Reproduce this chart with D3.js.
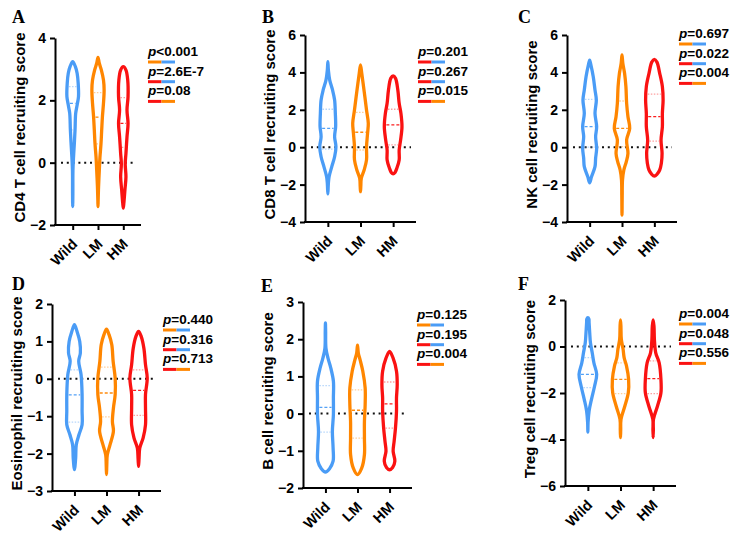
<!DOCTYPE html>
<html>
<head>
<meta charset="utf-8">
<script src="https://cdn.jsdelivr.net/npm/d3@7"></script>
<style>
  body { margin: 0; background: #fff; }
  svg text { font-family: "Liberation Sans", Arial, sans-serif; font-weight: bold; }
</style>
</head>
<body>
<svg id="chart" width="744" height="542"></svg>
<script>
// groups
const groups = ["Wild", "LM", "HM"];

// violin profiles: [score, relative density], from top to bottom
const cd4Wild = [[3.24,0],[3.08,3.3],[2.87,5.5],[2.55,6.8],[2.12,7.2],[1.85,5.5],[1.58,3.7],[1.05,2.9],[0.60,2.0],[0.17,1.0],[-0.26,0.3],[-1.0,0.2],[-1.41,0]];
const cd4LM = [[3.38,0],[3.19,1.6],[2.97,4.2],[2.65,6.8],[2.33,7.6],[1.90,6.8],[1.48,5.5],[1.05,4.6],[0.60,3.7],[0.17,2.4],[-0.26,1.6],[-0.77,0.7],[-1.2,0.2],[-1.41,0]];
const cd4HM = [[3.08,0],[2.97,3.3],[2.65,5.5],[2.12,5.9],[1.69,4.6],[1.26,5.9],[0.83,4.6],[0.30,3.3],[-0.04,2.4],[-0.45,3.3],[-0.88,2.0],[-1.30,0.7],[-1.46,0]];

const cd8Wild = [[4.57,0],[4.13,0.5],[3.59,1.8],[3.06,4.5],[2.52,6.5],[1.81,7.2],[1.10,7.5],[0.56,6.5],[0.03,7.8],[-0.51,6.5],[-1.04,3.8],[-1.58,1.2],[-1.94,0.5],[-2.50,0]];
const cd8LM = [[4.40,0],[3.95,1.2],[3.42,2.5],[2.70,4.2],[1.99,5.8],[1.28,7.5],[0.74,6.8],[0.03,5.8],[-0.68,5.8],[-1.22,3.5],[-1.66,0.8],[-2.1,0.3],[-2.38,0]];
const cd8HM = [[3.81,0],[3.68,2.3],[3.06,4.5],[2.35,5.8],[1.81,7.5],[1.10,8.5],[0.39,7.2],[-0.15,5.8],[-0.68,5.8],[-1.13,3.5],[-1.35,1.8],[-1.43,0]];

const nkWild = [[4.66,0],[4.40,1.2],[3.77,3.5],[3.06,5.2],[2.52,6.5],[1.81,5.2],[1.10,6.8],[0.56,5.8],[-0.06,6.8],[-0.59,5.8],[-1.04,5.2],[-1.58,1.8],[-1.90,0]];
const nkLM = [[4.93,0],[4.49,0.8],[3.95,2.5],[3.24,3.8],[2.35,4.5],[1.63,5.8],[1.01,7.5],[0.39,4.5],[-0.33,5.8],[-0.77,4.2],[-1.22,1.8],[-1.75,0.5],[-2.6,0.2],[-3.63,0]];
const nkHM = [[4.70,0],[4.55,2.5],[3.95,5.2],[3.24,7.8],[2.52,8.5],[1.81,7.8],[1.10,7.8],[0.39,6.5],[-0.33,7.5],[-0.86,6.8],[-1.22,5.2],[-1.45,2.5],[-1.54,0]];

const eosWild = [[1.45,0],[1.27,2.5],[1.00,5.2],[0.69,5.8],[0.47,4.2],[0.11,6.5],[-0.42,7.5],[-0.87,7.5],[-1.23,7.5],[-1.49,4.5],[-1.76,1.8],[-2.12,1.2],[-2.43,0]];
const eosLM = [[1.33,0],[1.18,2.5],[0.91,5.2],[0.47,6.5],[0.02,8.5],[-0.42,8.5],[-0.78,6.8],[-1.14,5.8],[-1.40,6.8],[-1.76,3.5],[-2.03,0.8],[-2.3,0.3],[-2.56,0]];
const eosHM = [[1.27,0],[1.14,2.5],[0.82,5.2],[0.38,6.8],[0.02,8.5],[-0.42,6.8],[-0.78,6.8],[-1.23,6.8],[-1.58,4.5],[-1.85,1.2],[-2.12,0.5],[-2.34,0]];

const bWild = [[2.44,0],[2.21,0.2],[1.76,0.5],[1.49,2.5],[1.23,5.2],[0.87,7.8],[0.42,7.8],[-0.03,7.8],[-0.48,6.8],[-0.92,7.5],[-1.28,7.5],[-1.48,4.0],[-1.57,0]];
const bLM = [[1.84,0],[1.63,0.8],[1.45,2.5],[1.14,5.2],[0.69,7.5],[0.24,7.5],[-0.21,6.8],[-0.66,6.8],[-1.10,6.8],[-1.46,4.2],[-1.64,0]];
const bHM = [[1.67,0],[1.49,3.5],[1.14,6.8],[0.78,7.5],[0.42,6.8],[0.06,6.8],[-0.39,5.8],[-0.74,4.5],[-1.01,3.5],[-1.28,5.2],[-1.45,3.0],[-1.51,0]];

const tregWild = [[1.24,0],[1.18,1.0],[1.02,1.2],[0.59,1.8],[0.16,2.5],[-0.27,4.2],[-0.70,5.8],[-1.20,8.5],[-1.70,6.5],[-2.27,3.5],[-2.77,1.2],[-3.28,0.2],[-3.68,0]];
const tregLM = [[1.14,0],[0.88,0.4],[0.31,0.8],[-0.12,2.5],[-0.48,3.5],[-0.84,5.8],[-1.41,7.8],[-1.99,7.5],[-2.56,4.2],[-3.13,0.5],[-3.6,0.2],[-3.92,0]];
const tregHM = [[1.14,0],[0.88,0.8],[0.31,1.2],[-0.27,2.5],[-0.70,5.8],[-1.41,7.5],[-1.99,7.5],[-2.56,4.2],[-3.13,0.3],[-3.6,0.2],[-3.92,0]];

// quartiles per group: [Q1, median, Q3]
const cd4Quart = [[1.05,1.90,2.44],[0.60,1.46,2.25],[0.49,1.26,2.09]];
const cd8Quart = [[-0.10,1.01,2.03],[-0.15,0.80,1.86],[0.12,1.19,2.03]];
const nkQuart = [[0.0,1.10,2.56],[0.03,1.01,2.47],[0.33,1.63,2.84]];
const eosQuart = [[-1.16,-0.43,0.24],[-1.02,-0.38,0.31],[-0.98,-0.31,0.24]];
const bQuart = [[-0.50,0.17,0.75],[-0.66,0.09,0.64],[-0.39,0.26,0.85]];
const tregQuart = [[-1.77,-1.20,-0.48],[-2.03,-1.41,-0.70],[-2.03,-1.38,-0.62]];

// y ticks
const cd4Ticks = [-2, 0, 2, 4];
const cd8Ticks = [-4, -2, 0, 2, 4, 6];
const nkTicks = [-4, -2, 0, 2, 4, 6];
const eosTicks = [-3, -2, -1, 0, 1, 2];
const bTicks = [-2, -1, 0, 1, 2, 3];
const tregTicks = [-6, -4, -2, 0, 2];

// p values and the compared groups (left colour, right colour)
const cd4P = ["<0.001", "=2.6E-7", "=0.08"];
const cd8P = ["=0.201", "=0.267", "=0.015"];
const nkP = ["=0.697", "=0.022", "=0.004"];
const eosP = ["=0.440", "=0.316", "=0.713"];
const bP = ["=0.125", "=0.195", "=0.004"];
const tregP = ["=0.004", "=0.048", "=0.556"];
const cd4Pairs = [[1,0],[2,0],[2,1]];
const cd8Pairs = [[2,0],[2,0],[2,1]];
const otherPairs = [[1,0],[2,0],[2,1]];

const colors = ["#4a9cf6", "#ff8600", "#fa1212"];

// panels: data + where they sit
const panels = [
  {letter: "A", title: "CD4 T cell recruiting score", ticks: cd4Ticks, v: [cd4Wild, cd4LM, cd4HM], q: cd4Quart, p: cd4P, pairs: cd4Pairs,
   x0: 55, x1: 141, yTop: 38, yBot: 225, lx: 12, ly: 23, px: 148, py: 56},
  {letter: "B", title: "CD8 T cell recruiting score", ticks: cd8Ticks, v: [cd8Wild, cd8LM, cd8HM], q: cd8Quart, p: cd8P, pairs: cd8Pairs,
   x0: 305, x1: 416, yTop: 35, yBot: 222, lx: 262, ly: 23, px: 418, py: 56},
  {letter: "C", title: "NK cell recruiting score", ticks: nkTicks, v: [nkWild, nkLM, nkHM], q: nkQuart, p: nkP, pairs: otherPairs,
   x0: 567, x1: 677, yTop: 35, yBot: 222, lx: 518, ly: 23, px: 679, py: 38},
  {letter: "D", title: "Eosinophil recruiting score", ticks: eosTicks, v: [eosWild, eosLM, eosHM], q: eosQuart, p: eosP, pairs: otherPairs,
   x0: 52, x1: 161, yTop: 304, yBot: 491, lx: 12, ly: 290, px: 163, py: 324},
  {letter: "E", title: "B cell recruiting score", ticks: bTicks, v: [bWild, bLM, bHM], q: bQuart, p: bP, pairs: otherPairs,
   x0: 303, x1: 412, yTop: 302, yBot: 488, lx: 261, ly: 292, px: 417, py: 319},
  {letter: "F", title: "Treg cell recruiting score", ticks: tregTicks, v: [tregWild, tregLM, tregHM], q: tregQuart, p: tregP, pairs: otherPairs,
   x0: 565, x1: 676, yTop: 300, yBot: 486, lx: 518, ly: 290, px: 679, py: 318}
];

var svg = d3.select("#chart");

// half width of a profile at a given score (linear between read points)
function densityAt(profile, val) {
  for (var i = 0; i < profile.length - 1; i++) {
    var a = profile[i], b = profile[i + 1];
    if (val <= a[0] && val >= b[0]) {
      var t = (a[0] - val) / (a[0] - b[0]);
      return a[1] + t * (b[1] - a[1]);
    }
  }
  return 0;
}

panels.forEach(function (pn) {
  var g = svg.append("g");

  var y = d3.scaleLinear()
    .domain(d3.extent(pn.ticks))
    .range([pn.yBot, pn.yTop]);

  var x = d3.scalePoint()
    .domain(groups)
    .range([pn.x0, pn.x1])
    .padding(0.7);

  // density -> half width in px
  var w = d3.scaleLinear().domain([0, 10]).range([0, x.step() * 10.5 / 33]);

  // dotted zero line
  g.append("line")
    .attr("x1", pn.x0 + 6)
    .attr("x2", pn.x1 - 5)
    .attr("y1", y(0))
    .attr("y2", y(0))
    .attr("stroke", "#111")
    .attr("stroke-width", 2)
    .attr("stroke-dasharray", "2,3.8");

  // violins
  var line = d3.line().curve(d3.curveCatmullRomClosed.alpha(0.5));
  groups.forEach(function (grp, i) {
    var prof = pn.v[i];
    var cx = x(grp);
    var inner = prof.slice(1, -1);
    var pts = [[cx, y(prof[0][0])]]
      .concat(inner.map(function (d) { return [cx + w(d[1]), y(d[0])]; }))
      .concat([[cx, y(prof[prof.length - 1][0])]])
      .concat(inner.slice().reverse().map(function (d) { return [cx - w(d[1]), y(d[0])]; }));

    g.append("path")
      .attr("d", line(pts))
      .attr("fill", "none")
      .attr("stroke", colors[i])
      .attr("stroke-width", 3.3)
      .attr("stroke-linejoin", "round");

    // quartile lines
    pn.q[i].forEach(function (val, k) {
      var hw = Math.max(w(densityAt(prof, val)) - 1.9, 1.5);
      g.append("line")
        .attr("x1", cx - hw)
        .attr("x2", cx + hw)
        .attr("y1", y(val))
        .attr("y2", y(val))
        .attr("stroke", colors[i])
        .attr("stroke-width", 1.3)
        .attr("stroke-opacity", k === 1 ? 0.95 : 0.4)
        .attr("stroke-dasharray", k === 1 ? "3,2" : "1.5,1.5");
    });
  });

  // axes
  var yAxis = d3.axisLeft(y).tickValues(pn.ticks).tickFormat(d3.format("d"))
    .tickSize(5).tickPadding(4).tickSizeOuter(0);
  var xAxis = d3.axisBottom(x).tickSize(5).tickSizeOuter(0);

  var ya = g.append("g")
    .attr("transform", "translate(" + pn.x0 + ",0)")
    .call(yAxis);
  ya.selectAll("text").style("font-size", "14px").attr("fill", "#000");

  var xa = g.append("g")
    .attr("transform", "translate(0," + pn.yBot + ")")
    .call(xAxis);
  xa.select(".domain").attr("d", "M" + (pn.x0 - 1) + ",0H" + pn.x1);
  xa.selectAll("text")
    .style("font-size", "14.5px")
    .attr("fill", "#000")
    .attr("text-anchor", "end")
    .attr("dy", 0)
    .attr("y", 0)
    .attr("transform", "translate(5,20) rotate(-45)");

  [ya, xa].forEach(function (a) {
    a.selectAll("path, line").attr("stroke", "#000").attr("stroke-width", 2);
  });

  // axis title
  g.append("text")
    .attr("transform", "translate(" + (pn.x0 - 30) + "," + ((pn.yTop + pn.yBot) / 2 - 4) + ") rotate(-90)")
    .attr("text-anchor", "middle")
    .style("font-size", "15px")
    .text(pn.title);

  // panel letter
  g.append("text")
    .attr("x", pn.lx)
    .attr("y", pn.ly)
    .style("font-family", "'Liberation Serif', 'Times New Roman', serif")
    .style("font-size", "18px")
    .text(pn.letter);

  // p values with colour bars
  pn.p.forEach(function (txt, k) {
    var by = pn.py + k * 19.7;
    var t = g.append("text")
      .attr("x", pn.px)
      .attr("y", by)
      .style("font-size", "13.5px");
    t.append("tspan").style("font-style", "italic").text("p");
    t.append("tspan").text(txt);

    pn.pairs[k].forEach(function (ci, s) {
      g.append("line")
        .attr("x1", pn.px + s * 13.5)
        .attr("x2", pn.px + (s + 1) * 13.5)
        .attr("y1", by + 6)
        .attr("y2", by + 6)
        .attr("stroke", colors[ci])
        .attr("stroke-width", 3);
    });
  });
});
</script>
</body>
</html>
